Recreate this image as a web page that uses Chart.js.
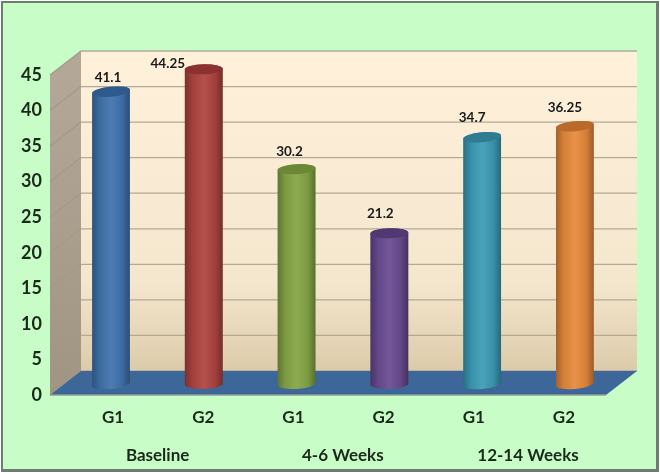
<!DOCTYPE html>
<html>
<head>
<meta charset="utf-8">
<script src="https://cdn.jsdelivr.net/npm/chart.js@4"></script>
<style>
  html, body { margin: 0; background: #fff; }
  #frame { position: absolute; left: 1px; top: 1px; width: 653px; height: 466px;
           background: #c9fdc8; border: 2px solid #6f7d70; border-right-width: 3px; border-bottom-width: 3px; }
  #wrap { position: absolute; left: 0; top: 0; width: 660px; height: 474px; }
  canvas { filter: blur(0.4px); }
</style>
</head>
<body>
<div id="frame"></div>
<div id="wrap"><canvas id="myChart" width="660" height="474"></canvas></div>
<script>
const categories = ['G1', 'G2', 'G1', 'G2', 'G1', 'G2'];
const groups = ['Baseline', '4-6 Weeks', '12-14 Weeks'];
const values = [41.1, 44.25, 30.2, 21.2, 34.7, 36.25];
const barColors = ['#4174ae', '#b04541', '#86a747', '#6a4c92', '#3c9db7', '#e78a3c'];
const capColors = ['#2f5a8c', '#8a3230', '#6b8836', '#513872', '#2d7c91', '#b96a29'];
const yTicks = [0, 5, 10, 15, 20, 25, 30, 35, 40, 45];

// hand nudges for the value labels, the original has them dragged around
const labelNudge = [[-3, -14], [-36, -6], [-7, -18], [-9, -20], [-10, -20], [-10, -19]];
const capTilt = [-0.1, -0.02, -0.06, -0.03, -0.09, -0.1];

const FONT = 'Lato, "Open Sans", sans-serif';
const DEPTH_X = 31, DEPTH_Y = 24;

function cylinder(ctx, x, top, bottom, color, cap, tilt) {
  const rx = 19, ry = 5;
  const g = ctx.createLinearGradient(x - rx, 0, x + rx, 0);
  g.addColorStop(0, shade(color, -0.3));
  g.addColorStop(0.2, shade(color, -0.08));
  g.addColorStop(0.5, shade(color, 0.06));
  g.addColorStop(0.8, shade(color, -0.08));
  g.addColorStop(1, shade(color, -0.34));
  ctx.fillStyle = g;
  ctx.beginPath();
  ctx.ellipse(x, bottom, rx, ry, tilt, 0, Math.PI);
  ctx.ellipse(x, top, rx, ry, tilt, Math.PI, 0);
  ctx.closePath();
  ctx.fill();
  ctx.fillStyle = cap;
  ctx.beginPath();
  ctx.ellipse(x, top, rx, ry, tilt, 0, Math.PI * 2);
  ctx.fill();
}

function shade(hex, amt) {
  const n = parseInt(hex.slice(1), 16);
  const f = c => Math.max(0, Math.min(255, Math.round(c + (amt > 0 ? 255 - c : c) * amt)));
  return `rgb(${f(n >> 16)},${f((n >> 8) & 255)},${f(n & 255)})`;
}

const scene3d = {
  id: 'scene3d',
  beforeDatasetsDraw(chart) {
    const { ctx, scales: { x, y } } = chart;
    const y0 = y.getPixelForValue(0), yMax = y.getPixelForValue(45);
    const fl = 50, fr = 606;

    // back wall
    let g = ctx.createLinearGradient(0, yMax - DEPTH_Y, 0, y0 - DEPTH_Y);
    g.addColorStop(0, '#fff1da');
    g.addColorStop(0.72, '#f5e7ce');
    g.addColorStop(1, '#dccbaa');
    ctx.fillStyle = g;
    ctx.fillRect(fl + DEPTH_X, yMax - DEPTH_Y, fr - fl, y0 - yMax);

    // left wall
    g = ctx.createLinearGradient(0, yMax, 0, y0);
    g.addColorStop(0, '#b3a898');
    g.addColorStop(1, '#a09582');
    ctx.fillStyle = g;
    ctx.beginPath();
    ctx.moveTo(fl, yMax);
    ctx.lineTo(fl + DEPTH_X, yMax - DEPTH_Y);
    ctx.lineTo(fl + DEPTH_X, y0 - DEPTH_Y);
    ctx.lineTo(fl, y0);
    ctx.closePath();
    ctx.fill();

    // gridlines run along both walls, fainter on the shaded side
    ctx.lineWidth = 1.3;
    yTicks.forEach(v => {
      const py = y.getPixelForValue(v);
      ctx.strokeStyle = '#a39a88';
      ctx.beginPath();
      ctx.moveTo(fl, py);
      ctx.lineTo(fl + DEPTH_X, py - DEPTH_Y);
      ctx.stroke();
      ctx.strokeStyle = '#b2aa99';
      ctx.beginPath();
      ctx.moveTo(fl + DEPTH_X, py - DEPTH_Y);
      ctx.lineTo(fr + DEPTH_X, py - DEPTH_Y);
      ctx.stroke();
    });

    // floor
    ctx.fillStyle = '#3d6699';
    ctx.beginPath();
    ctx.moveTo(fl, y0);
    ctx.lineTo(fl + DEPTH_X, y0 - DEPTH_Y);
    ctx.lineTo(fr + DEPTH_X, y0 - DEPTH_Y);
    ctx.lineTo(fr, y0);
    ctx.closePath();
    ctx.fill();
    ctx.strokeStyle = '#8f9f98';
    ctx.lineWidth = 1.5;
    ctx.beginPath();
    ctx.moveTo(fl, y0);
    ctx.lineTo(fr, y0);
    ctx.stroke();

    // bars stand halfway into the floor, so shift them off the front plane
    ctx.textAlign = 'center';
    ctx.textBaseline = 'middle';
    const first = chart.getDatasetMeta(0).data[0].x;
    chart.getDatasetMeta(0).data.forEach((el, i) => {
      const bx = 111 + (el.x - first) * 1.029;
      const top = el.y - 11, bottom = el.base - 11;
      cylinder(ctx, bx, top, bottom, el.options.backgroundColor, capColors[i], capTilt[i]);
      ctx.fillStyle = '#1a1a1a';
      ctx.font = 'bold 13.5px ' + FONT;
      ctx.fillText(values[i], bx + labelNudge[i][0], top + labelNudge[i][1]);
    });
    return false;
  }
};

new Chart(document.getElementById('myChart'), {
  type: 'bar',
  data: {
    labels: categories,
    datasets: [{ data: values, backgroundColor: barColors, xAxisID: 'x', yAxisID: 'y' }]
  },
  plugins: [scene3d],
  options: {
    responsive: false,
    animation: false,
    layout: { padding: { left: 0, right: 51, top: 75, bottom: 0 } },
    plugins: { legend: { display: false }, tooltip: { enabled: false } },
    scales: {
      y: {
        min: 0, max: 45,
        afterFit(s) { s.width = 68; },
        afterBuildTicks(s) { s.ticks = yTicks.map(v => ({ value: v })); },
        grid: { display: false, drawTicks: false },
        border: { display: false },
        ticks: { padding: 26, color: '#1a2a1a', font: { family: FONT, weight: 'bold', size: 18 } }
      },
      x: {
        afterFit(s) { s.height = 40; },
        grid: { display: false, drawTicks: false },
        border: { display: false },
        ticks: { padding: 12, color: '#1a2a1a', maxRotation: 0, autoSkip: false, font: { family: FONT, weight: 'bold', size: 17 } }
      },
      groups: {
        type: 'category',
        labels: groups,
        position: 'bottom',
        grid: { display: false, drawTicks: false },
        border: { display: false },
        ticks: { padding: 10, color: '#1a2a1a', maxRotation: 0, autoSkip: false, font: { family: FONT, weight: 'bold', size: 17 } },
        afterFit(s) {
          s.height = 39;
          // group captions sit on the wider spacing of the bars, not the G1/G2 labels
          const configure = s.constructor.prototype.configure;
          s.configure = function () {
            configure.call(this);
            this._startPixel = this.left - 3;
            this._length = (this.right - this.left) * 1.027;
          };
        }
      }
    }
  }
});
</script>
</body>
</html>
